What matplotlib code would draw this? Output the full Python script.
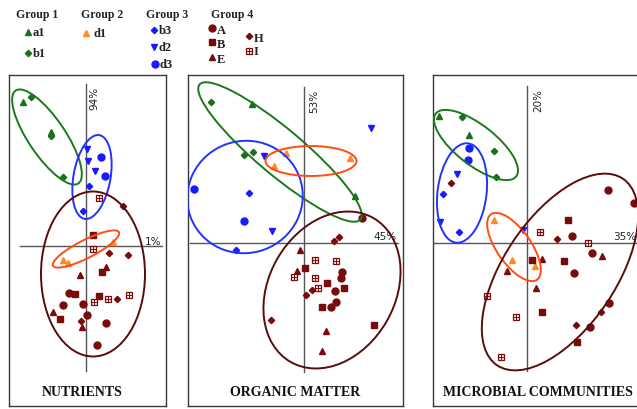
import numpy as np
import matplotlib.pyplot as plt
from matplotlib.patches import Ellipse

# PCA scores (pixel-like units, origin at the axis cross)
nut_kind = ['a1', 'b1', 'b1', 'a1', 'b1',
            'd2', 'd2', 'd2', 'd3', 'd3', 'b3', 'b3',
            'd1', 'd1', 'd1',
            'I', 'H', 'B', 'I', 'H', 'H', 'E', 'B', 'E', 'A', 'B', 'B', 'I',
            'H', 'I', 'I', 'A', 'A', 'E', 'B', 'A', 'H', 'E', 'A', 'A']
nut_x = [-63, -55, -35, -35, -23,
         1, 2, 9, 15, 19, 3, -3,
         -23, -18, 27,
         13, 37, 7, 7, 23, 42, 20, 16, -6, -17, -11, 13, 22,
         31, 43, 8, -23, -3, -33, -26, 1, -5, -4, 20, 11]
nut_y = [144, 149, 110, 114, 69,
         97, 85, 75, 89, 70, 60, 35,
         -14, -17, 4,
         48, 40, 11, -3, -7, -9, -21, -26, -29, -47, -48, -50, -53,
         -53, -49, -56, -59, -58, -66, -73, -69, -75, -81, -77, -99]

org_kind = ['b1', 'a1', 'b1', 'b1', 'a1',
            'd2', 'd2', 'd3', 'b3', 'd3', 'd2', 'b3',
            'd1', 'd1', 'd1',
            'A', 'H', 'H', 'E', 'I', 'I', 'B', 'E', 'I', 'I', 'A', 'A', 'B',
            'I', 'H', 'A', 'B', 'H', 'A', 'A', 'B', 'H', 'B', 'E', 'E']
org_x = [-93, -52, -60, -51, 51,
         -40, 67, -110, -55, -60, -32, -68,
         -30, -18, 46,
         58, 35, 30, -4, 11, 32, 1, -7, -10, 11, 38, 37, 23,
         14, 8, 31, 40, 2, 32, 27, 18, -33, 70, 22, 18]
org_y = [141, 139, 88, 91, 47,
         87, 115, 54, 50, 22, 12, -7,
         77, 90, 85,
         25, 6, 2, -7, -17, -18, -25, -28, -34, -35, -29, -35, -40,
         -45, -47, -48, -45, -52, -59, -64, -64, -77, -82, -88, -108]

mic_kind = ['a1', 'b1', 'a1', 'b1', 'b1',
            'd3', 'd3', 'd2', 'b3', 'd2', 'b3', 'd2',
            'H', 'd1', 'd1', 'd1',
            'A', 'A', 'B', 'I', 'H', 'A', 'I', 'A', 'E', 'B', 'E', 'B', 'E',
            'A', 'E', 'I', 'B', 'A', 'H', 'I', 'H', 'A', 'B', 'I']
mic_x = [-88, -65, -58, -33, -31,
         -58, -59, -70, -84, -87, -68, -4,
         -76, -33, -15, 8,
         81, 107, 41, 13, 30, 45, 61, 65, 75, 5, 15, 37, -20,
         47, 9, -40, 15, 82, 74, -11, 49, 63, 50, -26]
mic_y = [127, 126, 108, 92, 66,
         95, 83, 69, 49, 21, 11, 13,
         60, 23, -17, -23,
         53, 40, 23, 11, 4, 7, 0, -10, -13, -17, -16, -18, -28,
         -30, -45, -53, -69, -60, -69, -74, -82, -84, -99, -114]

# group ellipses: centre x, centre y, width, height, angle
nut_ell = {'g1': (-39, 109, 112, 37, -56), 'g3': (6, 69, 85, 37, 80),
           'g2': (0, -3, 74, 18, 27), 'g4': (7, -28, 104, 165, 0)}
org_ell = {'g1': (-24, 91, 210, 46, -40), 'g3': (-59, 46, 116, 112, 20),
           'g2': (7, 82, 91, 30, 0), 'g4': (28, -47, 166, 126, 60)}
mic_ell = {'g1': (-51, 98, 102, 40, -38), 'g3': (-65, 50, 100, 49, 83),
           'g2': (-13, -4, 80, 34, -55), 'g4': (33, -29, 225, 112, 56)}

titles = ['NUTRIENTS', 'ORGANIC MATTER', 'MICROBIAL COMMUNITIES']
ylabs = ['94%', '53%', '20%']
xlabs = ['1%', '45%', '35%']

GREEN = '#1d6f1d'
BLUE = '#1a1aff'
ORANGE = '#ff8a26'
RED = '#7a0b0b'
ell_col = {'g1': '#1a7a1a', 'g2': '#ff4d14', 'g3': '#2233ff', 'g4': '#5a0c0c'}

style = {
    'a1': dict(marker='^', color=GREEN, ms=4.5),
    'b1': dict(marker='D', color=GREEN, ms=3.2),
    'd1': dict(marker='^', color=ORANGE, ms=5),
    'b3': dict(marker='D', color=BLUE, ms=3.2),
    'd2': dict(marker='v', color=BLUE, ms=5),
    'd3': dict(marker='o', color=BLUE, ms=5),
    'A': dict(marker='o', color=RED, ms=5),
    'B': dict(marker='s', color=RED, ms=5),
    'E': dict(marker='^', color=RED, ms=4.5),
    'H': dict(marker='D', color=RED, ms=3.2),
}


def draw_marker(ax, k, x, y):
    if k == 'I':
        ax.plot(x, y, ls='none', marker='s', ms=5, mfc='#f6eaea', mec=RED, mew=0.9)
        ax.plot(x, y, ls='none', marker='+', ms=5, mec=RED, mew=0.7)
    else:
        s = style[k]
        ax.plot(x, y, ls='none', marker=s['marker'], ms=s['ms'],
                color=s['color'], mec=s['color'])


W, H = 637, 410
fig = plt.figure(figsize=(W / 100, H / 100), dpi=100)
serif = ['Liberation Serif', 'DejaVu Serif']

# panel boxes in pixels: left, right, top, bottom, cross x, cross y, axis line extents
panels = [
    (9, 166, 76, 407, 86, 247, (-66, 76, 162, -125), (8, 149), (67, 5), (-4, -146)),
    (188, 403, 76, 407, 304, 244, (-114, 94, 156, -129), (10, 143), (81, 7), (-9, -149)),
    (433, 665, 76, 407, 527, 244, (-93, 115, 157, -128), (11, 143), (98, 7), (11, -149)),
]
datasets = [(nut_kind, nut_x, nut_y, nut_ell), (org_kind, org_x, org_y, org_ell),
            (mic_kind, mic_x, mic_y, mic_ell)]

for i, (p, d) in enumerate(zip(panels, datasets)):
    l, r, t, b, cx, cy, ext, ylp, xlp, tp = p
    ax = fig.add_axes([l / W, 1 - b / H, (r - l) / W, (b - t) / H])
    ax.set_xlim(l - cx, r - cx)
    ax.set_ylim(cy - b, cy - t)
    ax.set_xticks([])
    ax.set_yticks([])
    for sp in ax.spines.values():
        sp.set_color('#3a3a3a')
        sp.set_linewidth(1.0)
    ax.plot([ext[0], ext[1]], [0, 0], color='#555555', lw=1.0, zorder=1)
    ax.plot([0, 0], [ext[3], ext[2]], color='#555555', lw=1.0, zorder=1)
    ax.text(ylp[0], ylp[1], ylabs[i], rotation=90, ha='center', va='center',
            fontsize=7.5, color='#222222')
    ax.text(xlp[0], xlp[1], xlabs[i], ha='center', va='center',
            fontsize=7.5, color='#222222')
    ax.text(tp[0], tp[1], titles[i], ha='center', va='center',
            fontsize=10, fontweight='bold', family=serif, color='#111111')
    kind, xs, ys, ell = d
    for k, x, y in zip(kind, xs, ys):
        draw_marker(ax, k, x, y)
    for g, (ex, ey, ew, eh, ea) in ell.items():
        ax.add_patch(Ellipse((ex, ey), ew, eh, angle=ea, fill=False,
                             ec=ell_col[g], lw=1.4, zorder=3))

# legend on top
leg = fig.add_axes([0, 0, 1, 1])
leg.set_xlim(0, W)
leg.set_ylim(H, 0)
leg.axis('off')
heads = [('Group 1', 37), ('Group 2', 102), ('Group 3', 167), ('Group 4', 232)]
for txt, x in heads:
    leg.text(x, 15, txt, ha='center', va='center', fontsize=8.5,
             fontweight='bold', family=serif, color='#222222')
entries = [('a1', 28, 33), ('b1', 28, 54), ('d1', 86, 34),
           ('b3', 154, 31), ('d2', 154, 48), ('d3', 155, 65),
           ('A', 212, 29), ('B', 212, 43), ('E', 212, 58),
           ('H', 249, 37), ('I', 249, 52)]
for k, x, y in entries:
    draw_marker(leg, k, x, y)
    dx = 8 if k == 'd1' else 4.5
    dy = 2 if k in ('A', 'B', 'E', 'H') else 0
    leg.text(x + dx, y + dy, k, ha='left', va='center', fontsize=9,
             fontweight='bold', family=serif, color='#222222')

fig.savefig('out.png', dpi=100)
